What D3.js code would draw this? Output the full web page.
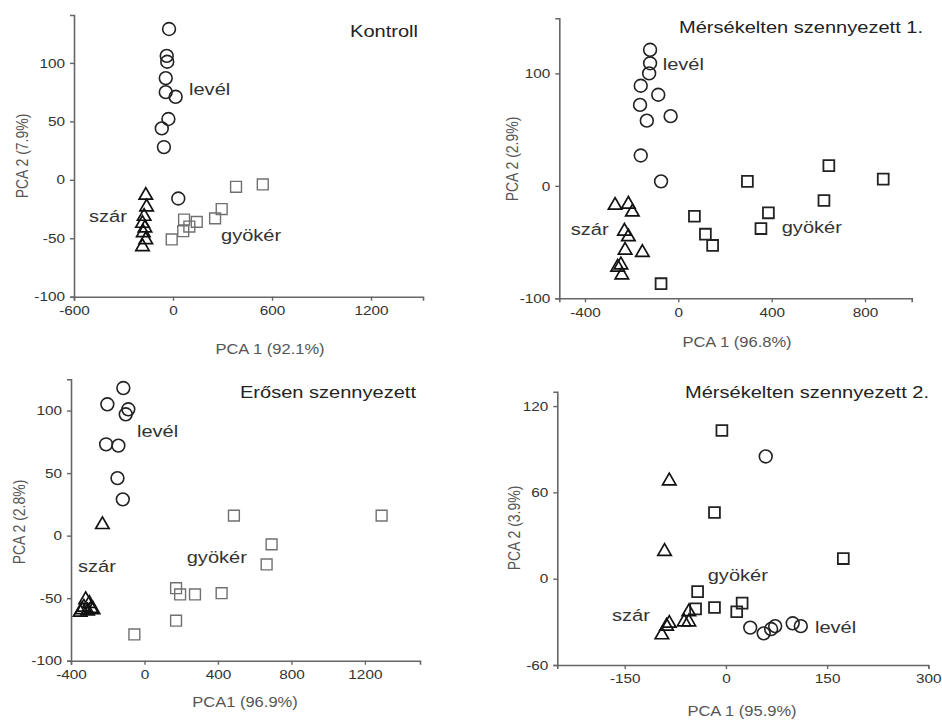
<!DOCTYPE html>
<html><head><meta charset="utf-8">
<script src="https://cdn.jsdelivr.net/npm/d3@7"></script>
<style>html,body{margin:0;padding:0;background:#fff;}svg{display:block;font-family:"Liberation Sans",Arial,sans-serif;}</style>
</head><body>
<script>
// ---- Data (PCA scores) ----
const kontrollLevel = [[-24,129],[-38,106],[-35,101],[-44,87],[-44,75],[16,71],[-28,52],[-68,44],[-55,28],[32,-16]];
const kontrollSzar = [[-165,-12],[-160,-22],[-175,-30],[-185,-36],[-170,-40],[-180,-44],[-165,-50],[-185,-56]];
const kontrollGyoker = [[-8,-51],[67,-34],[62,-44],[99,-40],[144,-36],[255,-33],[295,-25],[382,-6],[544,-4]];

const mersek1Level = [[-121,121],[-121,109],[-125,100],[-161,89],[-86,81],[-164,72],[-135,58],[-33,62],[-161,27],[-74,4]];
const mersek1Szar = [[-271,-16],[-214,-15],[-197,-22],[-231,-39],[-214,-44],[-228,-56],[-154,-58],[-260,-71],[-246,-69],[-242,-78]];
const mersek1Gyoker = [[-74,-87],[69,-27],[116,-43],[147,-53],[296,4],[386,-24],[354,-38],[624,-13],[645,18],[878,6]];

const erosenLevel = [[-115,118],[-202,105],[-88,101],[-102,97],[-209,73],[-142,72],[-147,46],[-118,29]];
const erosenSzar = [[-229,10],[-320,-50],[-300,-53],[-330,-56],[-290,-57],[-350,-60],[-310,-59],[-340,-58],[-280,-58]];
const erosenGyoker = [[-55,-79],[172,-42],[194,-47],[275,-47],[420,-46],[172,-68],[487,16],[665,-23],[692,-7],[1291,16]];

const mersek2Level = [[59,85],[36,-34],[56,-38],[67,-35],[73,-33],[99,-31],[111,-33]];
const mersek2Szar = [[-84,69],[-91,20],[-55,-22],[-55,-29],[-62,-29],[-84,-30],[-88,-32],[-95,-38]];
const mersek2Gyoker = [[-6,103],[-17,46],[174,14],[-42,-9],[-45,-21],[-17,-20],[24,-17],[16,-23]];

const groupLabels = ["levél", "szár", "gyökér"];
const panelTitles = ["Kontroll", "Mérsékelten szennyezett 1.", "Erősen szennyezett", "Mérsékelten szennyezett 2."];
const xTitles = ["PCA 1 (92.1%)", "PCA 1 (96.8%)", "PCA1 (96.9%)", "PCA 1 (95.9%)"];
const yTitles = ["PCA 2 (7.9%)", "PCA 2 (2.9%)", "PCA 2 (2.8%)", "PCA 2 (3.9%)"];
const xTicks = [[-600,0,600,1200],[-400,0,400,800],[-400,0,400,800,1200],[-150,0,150,300]];
const yTicks = [[-100,-50,0,50,100],[-100,0,100],[-100,-50,0,50,100],[-60,0,60,120]];

// ---- Layout ----
const SX = 1.18; // horizontal stretch of the original figure
const svg = d3.select("body").append("svg").attr("width",942).attr("height",720);

const panels = [
  {data:[kontrollLevel,kontrollSzar,kontrollGyoker], xd:[-600,1515], xr:[74,423], yd:[-100,141], yr:[296.7,15],
   labelPos:[[97,72.5],[-509,-36],[291,-52]], title:{x:418,y:37,anchor:"end"},
   xt:{x:270,y:354}, yt:{x:28,y:156}, sqColor:"#707070", sqW:1.4},
  {data:[mersek1Level,mersek1Szar,mersek1Gyoker], xd:[-510,1000], xr:[559.3,911.7], yd:[-100,149], yr:[298.3,18.3],
   labelPos:[[-67,103],[-461,-43.6],[443,-42]], title:{x:923,y:33,anchor:"end"},
   xt:{x:737,y:347}, yt:{x:518,y:159}, sqColor:"#222", sqW:1.8},
  {data:[erosenLevel,erosenSzar,erosenGyoker], xd:[-400,1500], xr:[71,420], yd:[-100,125], yr:[660.7,379.3],
   labelPos:[[-41,78.8],[-362,-29],[230,-22]], title:{x:416,y:398,anchor:"end"},
   xt:{x:245,y:707}, yt:{x:25,y:522}, sqColor:"#707070", sqW:1.4},
  {data:[mersek2Level,mersek2Szar,mersek2Gyoker], xd:[-250,300], xr:[557.3,928.3], yd:[-60,130], yr:[665,391.7],
   labelPos:[[132,-37.5],[-169,-29.4],[-27,-1.6]], title:{x:929,y:398,anchor:"end"},
   xt:{x:742,y:716}, yt:{x:520,y:528}, sqColor:"#222", sqW:1.8}
];

function txt(g, x, y, s, o) {
  o = o || {};
  return g.append("text")
    .attr("transform", `translate(${x},${y}) scale(${SX},1)` + (o.rot ? " rotate(-90)" : ""))
    .attr("text-anchor", o.anchor || "start")
    .attr("font-size", o.size || 17)
    .attr("fill", o.fill || "#222")
    .text(s);
}

const symCircle = d3.symbol().type(d3.symbolCircle).size(Math.PI*6.4*6.4);
const symTri = d3.symbol().type(d3.symbolTriangle).size(78);
const symSq = d3.symbol().type(d3.symbolSquare).size(118);
const fmt = d => String(d); // plain hyphen-minus as in the original

panels.forEach((p, i) => {
  const g = svg.append("g");
  const x = d3.scaleLinear().domain(p.xd).range(p.xr);
  const y = d3.scaleLinear().domain(p.yd).range(p.yr);

  const ax = g.append("g").attr("transform", `translate(0,${p.yr[0]})`)
    .call(d3.axisBottom(x).tickValues(xTicks[i]).tickSizeOuter(0).tickSize(4).tickPadding(5).tickFormat(fmt));
  const ay = g.append("g").attr("transform", `translate(${p.xr[0]},0)`)
    .call(d3.axisLeft(y).tickValues(yTicks[i]).tickSizeOuter(0).tickSize(4).tickPadding(5).tickFormat(fmt));
  [ax, ay].forEach(a => {
    a.select(".domain").attr("stroke", "#666").attr("stroke-width", 1.6);
    a.selectAll(".tick line").attr("stroke", "#666").attr("stroke-width", 1.4);
    a.selectAll(".tick text").attr("font-size", 13).attr("fill", "#333")
      .attr("font-family", '"Liberation Sans",Arial,sans-serif');
  });
  ax.selectAll(".tick text").attr("transform", `scale(${SX},1)`);
  ay.selectAll(".tick text").attr("x", -9/SX).attr("transform", `scale(${SX},1)`);

  // markers
  const [lev, szar, gyok] = p.data;
  g.append("g").selectAll("path").data(gyok).join("path")
    .attr("d", symSq).attr("transform", d => `translate(${x(d[0])},${y(d[1])})`)
    .attr("fill", "none").attr("stroke", p.sqColor).attr("stroke-width", p.sqW);
  g.append("g").selectAll("path").data(lev).join("path")
    .attr("d", symCircle).attr("transform", d => `translate(${x(d[0])},${y(d[1])})`)
    .attr("fill", "none").attr("stroke", "#222").attr("stroke-width", 1.6);
  g.append("g").selectAll("path").data(szar).join("path")
    .attr("d", symTri).attr("transform", d => `translate(${x(d[0])},${y(d[1]) + 1.5})`)
    .attr("fill", "none").attr("stroke", "#111").attr("stroke-width", 1.7);

  // group labels
  groupLabels.forEach((lab, k) => {
    const lp = p.labelPos[k];
    txt(g, x(lp[0]), y(lp[1]), lab, {size:17, fill:"#333"});
  });

  // titles
  txt(g, p.title.x, p.title.y, panelTitles[i], {size:17, anchor:p.title.anchor, fill:"#222"});
  txt(g, p.xt.x, p.xt.y, xTitles[i], {size:14, anchor:"middle", fill:"#555"});
  txt(g, p.yt.x, p.yt.y, yTitles[i], {size:14, anchor:"middle", fill:"#555", rot:true});
});
</script>
</body></html>
